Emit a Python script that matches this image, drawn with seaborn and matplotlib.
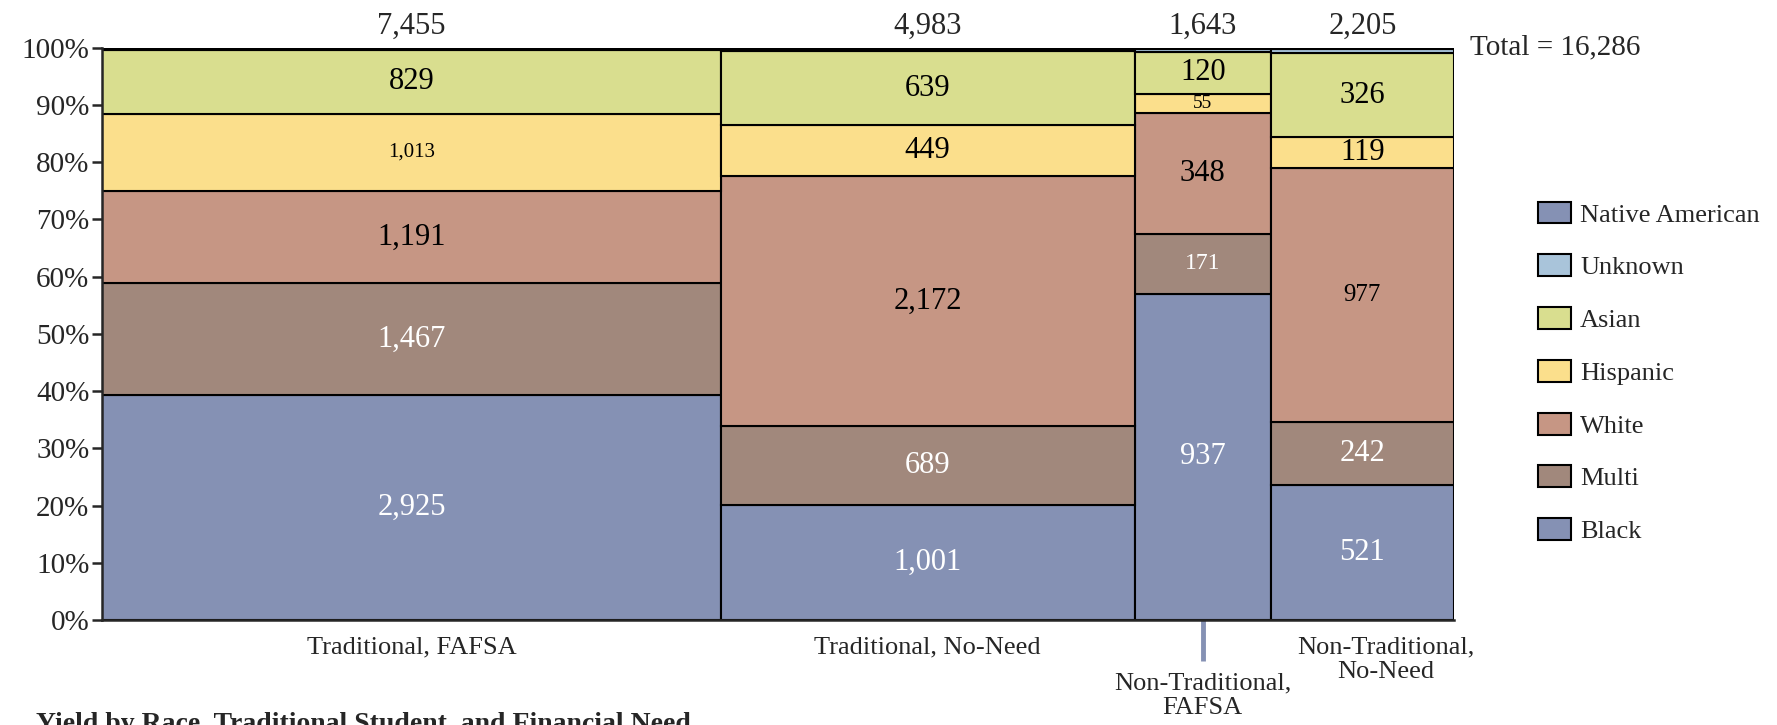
import pandas as pd
import matplotlib.pyplot as plt
import seaborn as sns
from matplotlib.patches import Patch
from matplotlib.ticker import PercentFormatter

sns.set_style("ticks")
plt.rcParams['font.family'] = ['Liberation Serif', 'DejaVu Serif']

# 데이터
groups = ["Traditional, FAFSA", "Traditional, No-Need", "Non-Traditional,\nFAFSA", "Non-Traditional,\nNo-Need"]
races = ["Native American", "Unknown", "Asian", "Hispanic", "White", "Multi", "Black"]
native_american = [16, 12, 5, 6]
unknown = [14, 21, 7, 14]
asian = [829, 639, 120, 326]
hispanic = [1013, 449, 55, 119]
white = [1191, 2172, 348, 977]
multi = [1467, 689, 171, 242]
black = [2925, 1001, 937, 521]
totals = [7455, 4983, 1643, 2205]

counts = {"Native American": native_american, "Unknown": unknown, "Asian": asian,
          "Hispanic": hispanic, "White": white, "Multi": multi, "Black": black}

palette = {"Native American": "#8591b4", "Unknown": "#a9c4da", "Asian": "#d9de8f",
           "Hispanic": "#fbdf8c", "White": "#c69684", "Multi": "#a1887c", "Black": "#8591b4"}

# 열 경계 (폭 = 합계)
edges = [0]
for t in totals:
    edges.append(edges[-1] + t)
centers = [(edges[i] + edges[i + 1]) / 2 for i in range(len(totals))]

rows = []
for i, g in enumerate(groups):
    for r in races:
        rows.append({"group": g, "race": r, "pos": centers[i], "count": counts[r][i]})
df = pd.DataFrame(rows)

fig = plt.figure(figsize=(17.77, 7.25), dpi=100)
ax = fig.add_axes([0.0574, 0.1448, 0.7608, 0.7895])

sns.histplot(data=df, x="pos", weights="count", hue="race", hue_order=races,
             bins=edges, multiple="fill", palette=palette, alpha=1,
             edgecolor="black", linewidth=1.5, legend=False, ax=ax)

ax.set_xlim(edges[0], edges[-1])
ax.set_ylim(0, 1)
ax.set_yticks([i / 10 for i in range(11)])
ax.yaxis.set_major_formatter(PercentFormatter(1.0, decimals=0))
ax.set_xticks([])
ax.set_xlabel("")
ax.set_ylabel("")
ax.tick_params(axis="y", labelsize=21, length=7, width=1.8, pad=2)
sns.despine(ax=ax)
ax.spines["left"].set_linewidth(1.8)
ax.spines["bottom"].set_linewidth(1.8)

# 구간 라벨
small = {(0, "Hispanic"): 15, (2, "Hispanic"): 14, (2, "Multi"): 17, (3, "White"): 18}
for i in range(len(groups)):
    base = 0
    for r in reversed(races):
        frac = counts[r][i] / totals[i]
        if r not in ("Native American", "Unknown"):
            color = "white" if r in ("Black", "Multi") else "black"
            ax.text(centers[i], base + frac / 2, f"{counts[r][i]:,}", ha="center", va="center",
                    fontsize=small.get((i, r), 22), color=color)
        base += frac
    ax.annotate(f"{totals[i]:,}", xy=(centers[i], 1), xycoords=("data", "axes fraction"),
                xytext=(0, 7), textcoords="offset pixels", ha="center", va="bottom", fontsize=22)

ax.annotate(f"Total = {sum(totals):,}", xy=(1, 1), xycoords="axes fraction",
            xytext=(16, 0), textcoords="offset pixels", ha="left", va="center", fontsize=21)

# x축 라벨
label_offsets = [(0, -16), (0, -16), (0, -52), (23, -16)]
for i, g in enumerate(groups):
    dx, dy = label_offsets[i]
    ax.annotate(g, xy=(centers[i], 0), xycoords=("data", "axes fraction"),
                xytext=(dx, dy), textcoords="offset pixels", ha="center", va="top",
                fontsize=19, linespacing=1.15, annotation_clip=False)
ax.plot([centers[2], centers[2]], [0, -0.072], color="#8591b4", lw=3.5,
        clip_on=False, solid_capstyle="butt")

# 범례
handles = [Patch(facecolor=palette[r], edgecolor="black", linewidth=1.5, label=r) for r in races]
fig.legend(handles=handles, loc="upper left", bbox_to_anchor=(0.8655, 0.722), frameon=False,
           fontsize=19, handlelength=1.25, handleheight=0.9, handletextpad=0.35,
           labelspacing=1.05, borderpad=0, borderaxespad=0)

fig.text(0.02, 0.018, "Yield by Race, Traditional Student, and Financial Need",
         fontsize=20, fontweight="bold", ha="left", va="top")

fig.savefig("out.png", dpi=100)
